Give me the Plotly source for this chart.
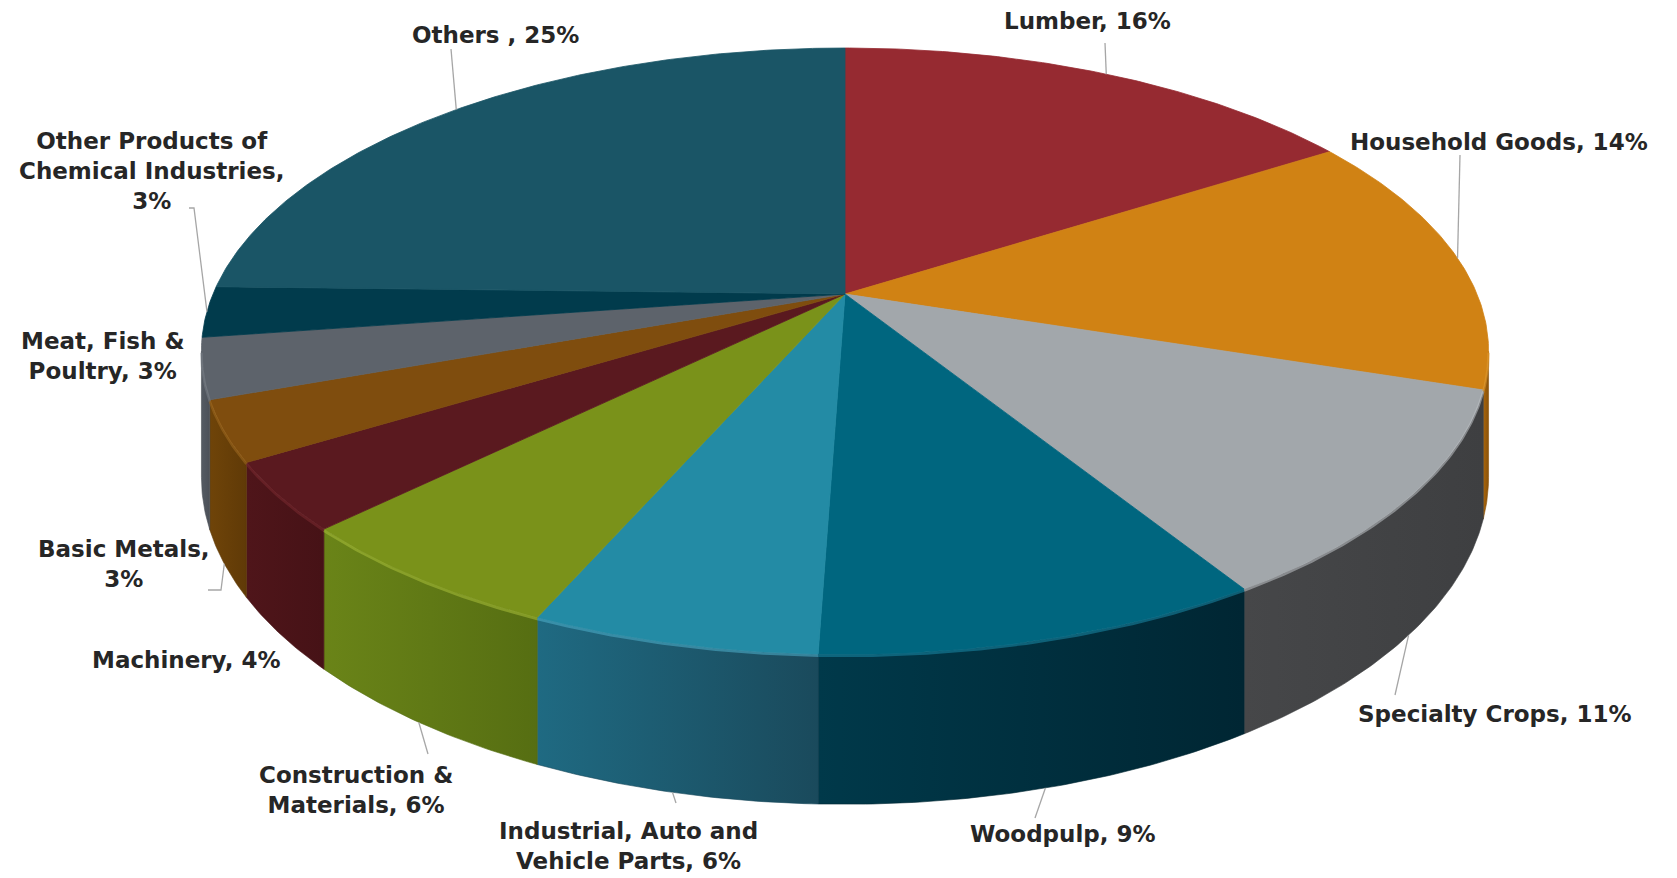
import math
import plotly.graph_objects as go

# ---------------- data ----------------
categories = ["Lumber", "Household Goods", "Specialty Crops", "Woodpulp",
              "Industrial, Auto and Vehicle Parts", "Construction & Materials",
              "Machinery", "Basic Metals", "Meat, Fish & Poultry",
              "Other Products of Chemical Industries", "Others "]
values = [16.0, 14.0, 11.1, 9.45, 6.05, 6.1, 3.6, 3.2, 3.2, 2.7, 24.6]

# ---------------- styles ----------------
top_colors = ["#962a31", "#d08214", "#a2a7ab", "#00667f", "#238ba5", "#7a921a",
              "#5a191f", "#7f4d0e", "#5d636b", "#013b4c", "#1a5566"]
wall_colors = [("#7a2228", "#6a1c22"), ("#a8650c", "#8a520a"), ("#464749", "#3e3f41"),
               ("#00394a", "#002633"), ("#1f6a82", "#1a4a5c"), ("#6a8418", "#566e12"),
               ("#4f151a", "#461216"), ("#6f4409", "#603a07"), ("#555b63", "#4b5058"),
               ("#013040", "#012a38"), ("#154552", "#123c48")]
edge_colors = ["#b0404a", "#e09a30", "#c0c4c8", "#1a8aa8", "#4fb0cc", "#a8be3a",
               "#7a2a30", "#a06a20", "#7a8088", "#1a5566", "#2a6a80"]

# label layout (center positions in page pixels) and wrapped label text
label_text = ["Lumber", "Household Goods", "Specialty Crops", "Woodpulp",
              "Industrial, Auto and<br>Vehicle Parts", "Construction &<br>Materials",
              "Machinery", "Basic Metals,<br>", "Meat, Fish &<br>Poultry",
              "Other Products of<br>Chemical Industries,<br>", "Others "]
label_pos = [(1087, 21), (1499, 142), (1495, 714), (1063, 834), (628, 846),
             (356, 790), (186, 660), (124, 564), (102, 356), (151, 171), (495, 35)]
# leader line end points (label side); None = no leader
leader_pts = [[(1105, 43)], [(1460, 155)], [(1395, 695)], [(1035, 818)], [(676, 803)],
              [(428, 754)], None, [(221, 590), (208, 590)], None,
              [(194, 208), (189, 208)], [(451, 49)]]
leader_on_wall = [False, False, True, True, True, True, True, True, False, False, False]

# ---------------- perspective geometry ----------------
W, Hpx = 1677, 878
CX, CY = 845.0, 294.0
SX, SY = 632.0, 292.4
K = 0.1887
DEPTH = 121.6


def proj(theta, drop=False):
    t = math.radians(theta)
    u, v = math.sin(t), math.cos(t)
    w = 1 + K * v
    x = CX + SX * u / w
    y = CY - SY * v / w + (DEPTH / w if drop else 0.0)
    return x, y


def arc(a0, a1, drop=False):
    n = max(3, int(abs(a1 - a0) / 0.5) + 1)
    pts = [proj(a0 + (a1 - a0) * i / (n - 1), drop) for i in range(n)]
    return [p[0] for p in pts], [p[1] for p in pts]


total = sum(values)
starts, ends = [], []
acc = 0.0
for v in values:
    starts.append(acc / total * 360.0)
    acc += v
    ends.append(acc / total * 360.0)

T1 = 90.0 + math.degrees(math.asin(K))
T2 = 360.0 - T1

fig = go.Figure()

# walls (front visible portion)
for i in range(len(values)):
    a = max(starts[i], T1)
    b = min(ends[i], T2)
    if b <= a:
        continue
    tx, ty = arc(a, b)
    bx, by = arc(b, a, drop=True)
    xs = tx + bx + [tx[0]]
    ys = ty + by + [ty[0]]
    c1, c2 = wall_colors[i]
    fig.add_trace(go.Scatter(x=xs, y=ys, mode="lines", fill="toself",
                             line=dict(color=c2, width=0.6),
                             fillgradient=dict(type="horizontal",
                                               colorscale=[[0, c1], [1, c2]]),
                             hoverinfo="skip", showlegend=False))

# top faces
for i in range(len(values)):
    ax_, ay_ = arc(starts[i], ends[i])
    xs = [CX] + ax_ + [CX]
    ys = [CY] + ay_ + [CY]
    fig.add_trace(go.Scatter(x=xs, y=ys, mode="lines", fill="toself",
                             fillcolor=top_colors[i],
                             line=dict(color=top_colors[i], width=0.8),
                             hoverinfo="skip", showlegend=False))

# bevel highlight on front top edge
for i in range(len(values)):
    a = max(starts[i], T1)
    b = min(ends[i], T2)
    if b <= a:
        continue
    tx, ty = arc(a, b)
    fig.add_trace(go.Scatter(x=tx, y=[y + 1.5 for y in ty], mode="lines",
                             line=dict(color=edge_colors[i], width=2.5),
                             opacity=0.55, hoverinfo="skip", showlegend=False))

# leader lines
for i in range(len(values)):
    if leader_pts[i] is None:
        continue
    mid = (starts[i] + ends[i]) / 2.0
    p = proj(mid, drop=leader_on_wall[i])
    xs = [p[0]] + [q[0] for q in leader_pts[i]]
    ys = [p[1]] + [q[1] for q in leader_pts[i]]
    fig.add_trace(go.Scatter(x=xs, y=ys, mode="lines",
                             line=dict(color="#a6a6a6", width=1.3),
                             hoverinfo="skip", showlegend=False))

# labels
for i in range(len(values)):
    pct = values[i] / total * 100.0
    txt = label_text[i]
    if txt.endswith("<br>"):
        txt = f"{txt}{pct:.0f}%"
    else:
        txt = f"{txt}, {pct:.0f}%"
    fig.add_annotation(x=label_pos[i][0], y=label_pos[i][1], text=txt,
                       showarrow=False, xanchor="center", yanchor="middle",
                       align="center",
                       font=dict(family="DejaVu Sans", size=23, color="#262626",
                                 weight="bold"))

fig.update_layout(
    width=W, height=Hpx, autosize=False,
    margin=dict(l=0, r=0, t=0, b=0),
    paper_bgcolor="white", plot_bgcolor="white",
    xaxis=dict(range=[0, W], visible=False, fixedrange=True),
    yaxis=dict(range=[Hpx, 0], visible=False, fixedrange=True),
    showlegend=False,
)

fig.write_html("out.html")
